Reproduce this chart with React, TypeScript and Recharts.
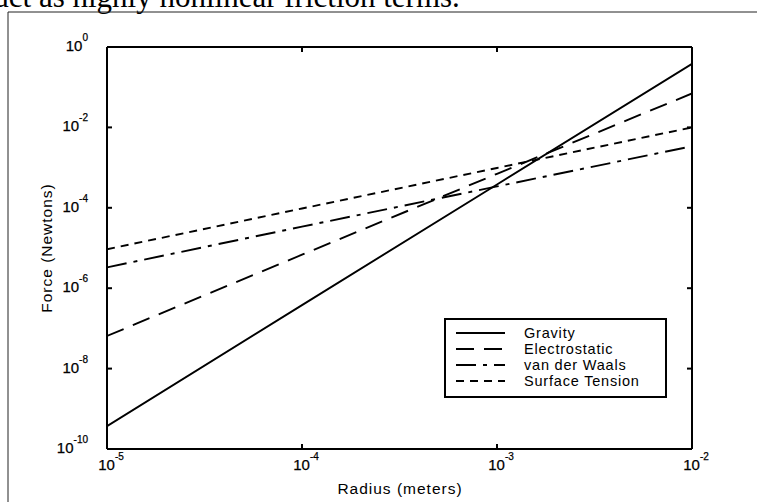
import React from "react";
import { LineChart, Line, XAxis, YAxis, Legend } from "recharts";

// values at each decade of radius
const radius = [1e-5, 1e-4, 1e-3, 1e-2];
const gravity = [3.7e-10, 3.8e-7, 3.8e-4, 0.38];
const electrostatic = [6.5e-8, 6.8e-6, 7.0e-4, 0.07];
const vanDerWaals = [3.3e-6, 3.4e-5, 3.4e-4, 3.4e-3];
const surfaceTension = [9.3e-6, 9.6e-5, 9.8e-4, 1.0e-2];

const xTicks = [1e-5, 1e-4, 1e-3, 1e-2];
const yTicks = [1e-10, 1e-8, 1e-6, 1e-4, 1e-2, 1];

const data = radius.map((r, i) => ({
  r,
  gravity: gravity[i],
  electrostatic: electrostatic[i],
  vdw: vanDerWaals[i],
  surface: surfaceTension[i],
}));

const series = [
  { key: "gravity", name: "Gravity", dash: undefined as string | undefined },
  { key: "electrostatic", name: "Electrostatic", dash: "18 10" },
  { key: "vdw", name: "van der Waals", dash: "20 7 4 7" },
  { key: "surface", name: "Surface Tension", dash: "8 6" },
];

const sans = "'Liberation Sans', Arial, Helvetica, sans-serif";

const expOf = (v: number) => Math.round(Math.log10(v));

function XTick(props: any) {
  const { x, y, payload } = props;
  return (
    <text x={x + 4} y={y} textAnchor="middle" fontFamily={sans} fontSize={15} fill="#000" stroke="#000" strokeWidth={0.25}>
      10
      <tspan dy={-10} fontSize={10}>
        {expOf(payload.value)}
      </tspan>
    </text>
  );
}

function YTick(props: any) {
  const { x, y, payload } = props;
  return (
    <text x={x} y={y + 4} textAnchor="end" fontFamily={sans} fontSize={15} fill="#000" stroke="#000" strokeWidth={0.25}>
      10
      <tspan dy={-10} fontSize={10}>
        {expOf(payload.value)}
      </tspan>
    </text>
  );
}

const NoTick = () => <g />;

// drawn from the series list so the order matches the reference
function LegendBox() {
  return (
    <div
      style={{
        border: "2px solid #000",
        background: "#fff",
        width: 223,
        height: 80,
        boxSizing: "border-box",
        padding: "5px 0 0 9px",
        fontFamily: sans,
        fontSize: 14.5,
        letterSpacing: 0.8,
        color: "#000",
      }}
    >
      {series.map((s) => (
        <div key={s.key} style={{ display: "flex", alignItems: "center", height: 16 }}>
          <svg width={52} height={6} style={{ display: "block" }}>
            <line x1={1} x2={50} y1={3} y2={3} stroke="#000" strokeWidth={1.8} strokeDasharray={s.dash} />
          </svg>
          <span style={{ marginLeft: 17, lineHeight: "16px" }}>{s.name}</span>
        </div>
      ))}
    </div>
  );
}

export default function App() {
  return (
    <div style={{ position: "absolute", left: 0, top: 0, width: 757, height: 502, background: "#fff", overflow: "hidden" }}>
      <LineChart width={757} height={502} data={data} margin={{ top: 42, right: 60, bottom: 23, left: 47 }}>
        <XAxis
          dataKey="r"
          type="number"
          scale="log"
          domain={[1e-5, 1e-2]}
          ticks={xTicks}
          allowDataOverflow
          height={30}
          tickSize={-5}
          tickMargin={26}
          tick={<XTick />}
          stroke="#000"
          strokeWidth={2}
        />
        <XAxis
          xAxisId="top"
          orientation="top"
          dataKey="r"
          type="number"
          scale="log"
          domain={[1e-5, 1e-2]}
          ticks={xTicks}
          allowDataOverflow
          height={5}
          tickSize={-5}
          tick={NoTick}
          stroke="#000"
          strokeWidth={2}
        />
        <YAxis
          type="number"
          scale="log"
          domain={[1e-10, 1]}
          ticks={yTicks}
          allowDataOverflow
          width={60}
          tickSize={-5}
          tickMargin={24}
          tick={<YTick />}
          stroke="#000"
          strokeWidth={2}
        />
        <YAxis
          yAxisId="right"
          orientation="right"
          type="number"
          scale="log"
          domain={[1e-10, 1]}
          ticks={yTicks}
          allowDataOverflow
          width={5}
          tickSize={-5}
          tick={NoTick}
          stroke="#000"
          strokeWidth={2}
        />
        <Legend
          layout="vertical"
          align="center"
          verticalAlign="middle"
          width={223}
          height={80}
          wrapperStyle={{ left: 444, top: 318 }}
          content={<LegendBox />}
        />
        {series.map((s) => (
          <Line
            key={s.key}
            dataKey={s.key}
            name={s.name}
            type="linear"
            stroke="#000"
            strokeWidth={1.9}
            strokeDasharray={s.dash}
            dot={false}
            activeDot={false}
            isAnimationActive={false}
          />
        ))}
      </LineChart>
      <svg width={757} height={502} style={{ position: "absolute", left: 0, top: 0, pointerEvents: "none" }}>
        <text x={-5} y={6.5} fontFamily="'Liberation Serif', 'Times New Roman', serif" fontSize={31} fill="#000">
          act as highly nonlinear friction terms.
        </text>
        <line x1={8} y1={12} x2={757} y2={12} stroke="#222" strokeWidth={1} />
        <line x1={8} y1={12} x2={8} y2={502} stroke="#222" strokeWidth={1} />
        <text x={400} y={494} textAnchor="middle" fontFamily={sans} fontSize={15.5} letterSpacing={1} fill="#000">
          Radius (meters)
        </text>
        <text
          x={52}
          y={248}
          textAnchor="middle"
          transform="rotate(-90 52 248)"
          fontFamily={sans}
          fontSize={15.5}
          letterSpacing={1}
          fill="#000"
        >
          Force (Newtons)
        </text>
      </svg>
    </div>
  );
}
